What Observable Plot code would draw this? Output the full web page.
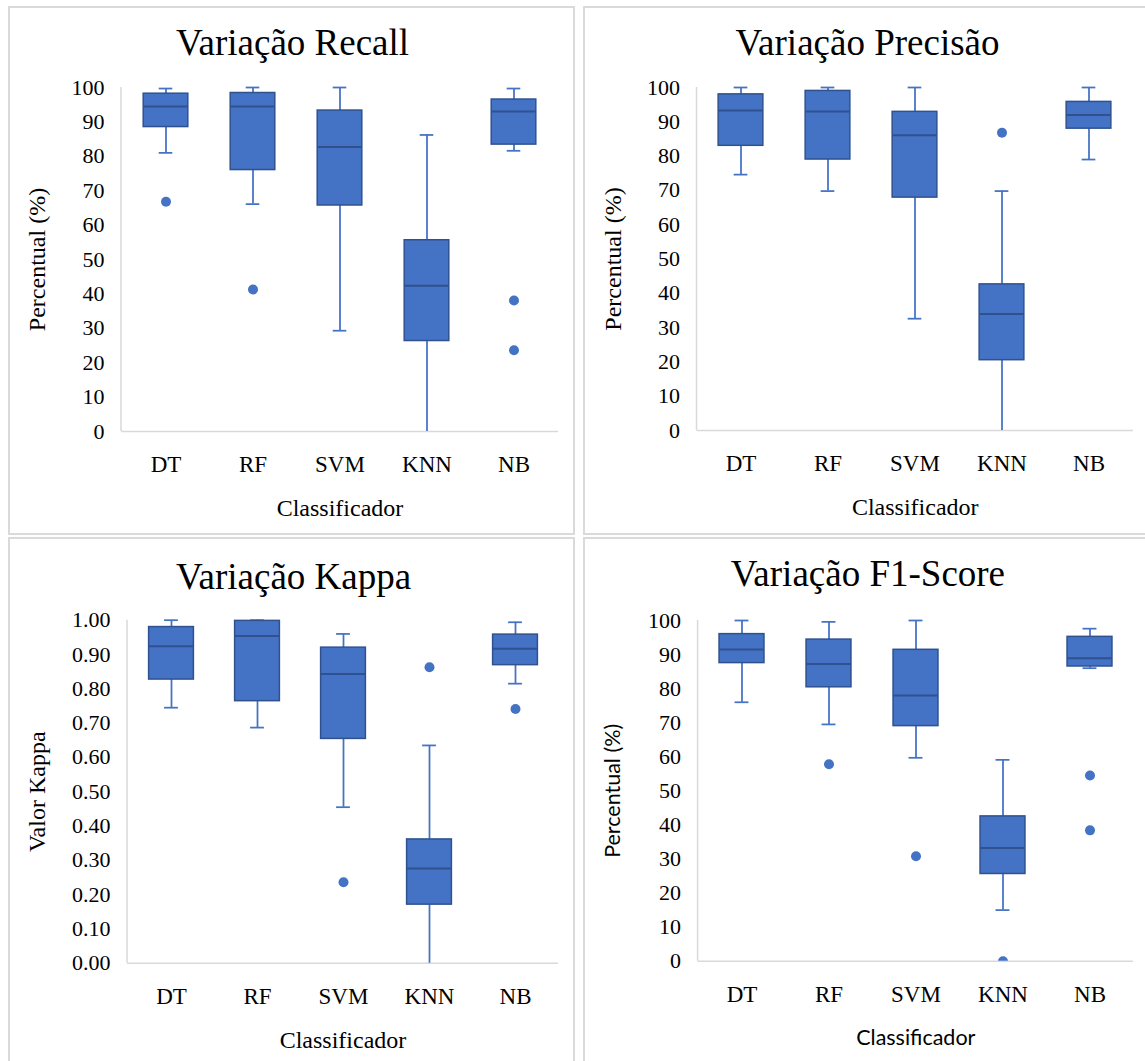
<!DOCTYPE html>
<html>
<head>
<meta charset="utf-8">
<script src="https://cdn.jsdelivr.net/npm/d3@7"></script>
<script src="https://cdn.jsdelivr.net/npm/@observablehq/plot@0.6"></script>
<style>
  html, body { margin: 0; padding: 0; background: #fff; }
  #root { position: relative; width: 1145px; height: 1061px; overflow: hidden; background: #fff; }
  .panel { position: absolute; box-sizing: border-box; border: 2px solid #dadada; }
  .chart { position: absolute; }
</style>
</head>
<body>
<div id="root"></div>
<script>
// ---- categories & tick labels ----
const categories = ["DT", "RF", "SVM", "KNN", "NB"];
const percentTicks = [0, 10, 20, 30, 40, 50, 60, 70, 80, 90, 100];
const kappaTicks = [0, 0.1, 0.2, 0.3, 0.4, 0.5, 0.6, 0.7, 0.8, 0.9, 1.0];

// ---- Recall (%) ----
const recallMin    = [81.0, 66.1, 29.3, 0.0, 81.6];
const recallQ1     = [88.5, 76.0, 65.7, 26.3, 83.4];
const recallMedian = [94.5, 94.5, 82.7, 42.4, 93.0];
const recallQ3     = [98.2, 98.4, 93.3, 55.6, 96.5];
const recallMax    = [99.7, 100.0, 100.0, 86.2, 99.7];
const recallOutlierCat = ["DT", "RF", "NB", "NB"];
const recallOutlierVal = [66.8, 41.3, 38.1, 23.6];

// ---- Precisão (%) ----
const precMin    = [74.6, 69.8, 32.6, 0.0, 79.0];
const precQ1     = [83.0, 79.0, 67.9, 20.5, 88.0];
const precMedian = [93.3, 93.0, 86.1, 34.0, 92.0];
const precQ3     = [98.0, 99.0, 92.9, 42.6, 95.8];
const precMax    = [100.0, 100.0, 100.0, 69.8, 100.0];
const precOutlierCat = ["KNN"];
const precOutlierVal = [86.8];

// ---- Kappa ----
const kappaMin    = [0.745, 0.687, 0.455, 0.0, 0.815];
const kappaQ1     = [0.827, 0.764, 0.654, 0.171, 0.869];
const kappaMedian = [0.924, 0.954, 0.843, 0.276, 0.917];
const kappaQ3     = [0.980, 0.998, 0.920, 0.361, 0.958];
const kappaMax    = [1.000, 1.000, 0.960, 0.635, 0.994];
const kappaOutlierCat = ["SVM", "KNN", "NB"];
const kappaOutlierVal = [0.236, 0.863, 0.741];

// ---- F1-Score (%) ----
const f1Min    = [76.0, 69.5, 59.7, 15.0, 86.0];
const f1Q1     = [87.5, 80.4, 69.0, 25.6, 86.5];
const f1Median = [91.5, 87.2, 78.0, 33.2, 88.9];
const f1Q3     = [96.0, 94.4, 91.4, 42.5, 95.2];
const f1Max    = [100.0, 99.6, 100.0, 59.1, 97.6];
const f1OutlierCat = ["RF", "SVM", "KNN", "NB", "NB"];
const f1OutlierVal = [57.8, 30.8, 0.0, 54.5, 38.4];

// ---- styling ----
const BLUE = "#4472C4";
const DARK = "#2F528F";
const GREY = "#d9d9d9";
const SERIF = "'Liberation Serif', 'Times New Roman', serif";
const SANS = "Lato, 'Open Sans', sans-serif";

const root = document.getElementById("root");

// panel frames
[[8, 6, 567, 529], [583, 6, 600, 529], [8, 537, 567, 600], [583, 537, 600, 600]].forEach(([l, t, w, h]) => {
  const d = document.createElement("div");
  d.className = "panel";
  Object.assign(d.style, {left: l + "px", top: t + "px", width: w + "px", height: h + "px"});
  root.appendChild(d);
});

function makePanel(cfg) {
  const rows = categories.map((c, i) => ({
    cat: c, min: cfg.min[i], q1: cfg.q1[i], med: cfg.med[i], q3: cfg.q3[i], max: cfg.max[i]
  }));
  const outs = cfg.outCat.map((c, i) => ({cat: c, v: cfg.outVal[i]}));
  const band = (cfg.width - cfg.ml - cfg.mr) / categories.length;
  const boxInset = (band - 45) / 2;
  const capInset = (band - 14) / 2;

  const axisLine = (index, scales, values, dim) => {
    const l = document.createElementNS("http://www.w3.org/2000/svg", "line");
    l.setAttribute("x1", dim.marginLeft);
    l.setAttribute("x2", dim.marginLeft);
    l.setAttribute("y1", dim.marginTop);
    l.setAttribute("y2", dim.height - dim.marginBottom);
    l.setAttribute("stroke", GREY);
    l.setAttribute("stroke-width", 1.5);
    return l;
  };

  const plot = Plot.plot({
    width: cfg.width,
    height: cfg.height,
    marginLeft: cfg.ml,
    marginRight: cfg.mr,
    marginTop: cfg.mt,
    marginBottom: cfg.mb,
    x: {domain: categories, padding: 0},
    y: {domain: cfg.domain},
    style: {fontFamily: SERIF, color: "#000", background: "transparent", overflow: "visible"},
    marks: [
      axisLine,
      Plot.ruleY([cfg.domain[0]], {stroke: GREY, strokeWidth: 1.5}),
      Plot.ruleX(rows, {x: "cat", y1: "min", y2: "max", stroke: BLUE, strokeWidth: 1.75}),
      Plot.tickY(rows, {x: "cat", y: "max", stroke: BLUE, strokeWidth: 1.75, insetLeft: capInset, insetRight: capInset}),
      Plot.tickY(rows.filter(d => d.min > cfg.domain[0]), {x: "cat", y: "min", stroke: BLUE, strokeWidth: 1.75, insetLeft: capInset, insetRight: capInset}),
      Plot.barY(rows, {x: "cat", y1: "q1", y2: "q3", fill: BLUE, stroke: DARK, strokeWidth: 1.5, insetLeft: boxInset, insetRight: boxInset}),
      Plot.tickY(rows, {x: "cat", y: "med", stroke: DARK, strokeWidth: 2, insetLeft: boxInset, insetRight: boxInset}),
      Plot.dot(outs, {x: "cat", y: "v", r: 5, fill: BLUE, stroke: "none", clip: true}),
      Plot.axisY({ticks: cfg.ticks, tickFormat: cfg.fmt, tickSize: 0, tickPadding: 17, fontSize: 22, fontFamily: SERIF, label: null, fill: "#000"}),
      Plot.axisX({tickSize: 0, tickPadding: 24, fontSize: 23, fontFamily: SERIF, label: null, fill: "#000"}),
      Plot.text([cfg.title], {text: d => d, frameAnchor: "top", lineAnchor: "middle", textAnchor: "middle", dx: cfg.tDx, dy: cfg.tDy, fontSize: 37, fontFamily: SERIF, fill: "#000"}),
      Plot.text([cfg.ylabel], {text: d => d, frameAnchor: "left", lineAnchor: "middle", textAnchor: "middle", rotate: -90, dx: cfg.yDx, fontSize: cfg.labelSize, fontFamily: cfg.labelFont, fill: "#000"}),
      Plot.text([cfg.xlabel], {text: d => d, frameAnchor: "bottom", lineAnchor: "middle", textAnchor: "middle", dy: 77, fontSize: cfg.labelSize, fontFamily: cfg.labelFont, fill: "#000"})
    ]
  });
  plot.classList.add("chart");
  plot.style.left = cfg.left + "px";
  plot.style.top = cfg.top + "px";
  root.appendChild(plot);
}

makePanel({
  left: 8, top: 6, width: 567, height: 529, ml: 113, mr: 17, mt: 81, mb: 104,
  domain: [0, 100], ticks: percentTicks, fmt: d3.format("d"),
  min: recallMin, q1: recallQ1, med: recallMedian, q3: recallQ3, max: recallMax,
  outCat: recallOutlierCat, outVal: recallOutlierVal,
  title: "Variação Recall", tDx: -47.5, tDy: -44,
  ylabel: "Percentual (%)", yDx: -84, xlabel: "Classificador",
  labelSize: 24, labelFont: SERIF
});

makePanel({
  left: 583, top: 6, width: 562, height: 529, ml: 113.5, mr: 12, mt: 81, mb: 105,
  domain: [0, 100], ticks: percentTicks, fmt: d3.format("d"),
  min: precMin, q1: precQ1, med: precMedian, q3: precQ3, max: precMax,
  outCat: precOutlierCat, outVal: precOutlierVal,
  title: "Variação Precisão", tDx: -47.75, tDy: -44,
  ylabel: "Percentual (%)", yDx: -83.5, xlabel: "Classificador",
  labelSize: 24, labelFont: SERIF
});

makePanel({
  left: 8, top: 537, width: 567, height: 524, ml: 119, mr: 17, mt: 82.7, mb: 98.2,
  domain: [0, 1], ticks: kappaTicks, fmt: d3.format(".2f"),
  min: kappaMin, q1: kappaQ1, med: kappaMedian, q3: kappaQ3, max: kappaMax,
  outCat: kappaOutlierCat, outVal: kappaOutlierVal,
  title: "Variação Kappa", tDx: -49.5, tDy: -42.7,
  ylabel: "Valor Kappa", yDx: -90, xlabel: "Classificador",
  labelSize: 24, labelFont: SERIF
});

makePanel({
  left: 583, top: 537, width: 562, height: 524, ml: 114.6, mr: 12, mt: 83, mb: 100.3,
  domain: [0, 100], ticks: percentTicks, fmt: d3.format("d"),
  min: f1Min, q1: f1Q1, med: f1Median, q3: f1Q3, max: f1Max,
  outCat: f1OutlierCat, outVal: f1OutlierVal,
  title: "Variação F1-Score", tDx: -47.9, tDy: -46,
  ylabel: "Percentual (%)", yDx: -84.6, xlabel: "Classificador",
  labelSize: 21.5, labelFont: SANS
});
</script>
</body>
</html>
